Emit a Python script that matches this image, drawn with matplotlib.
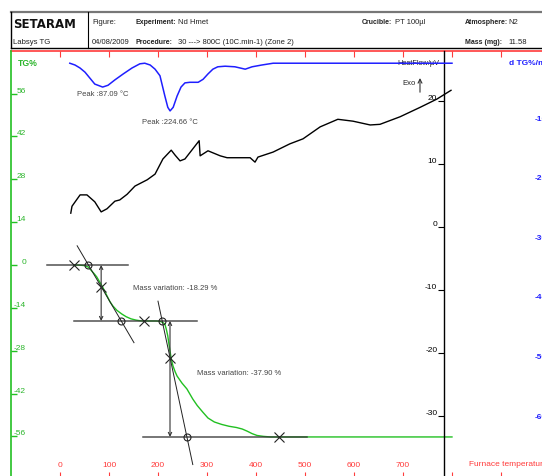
import matplotlib.pyplot as plt

plt.rcParams['font.family'] = ['Liberation Sans', 'DejaVu Sans']

GREEN = '#22c022'
GREEN_TXT = '#2bb52b'
RED = '#ff3b3b'
BLUE = '#1f1fff'
GREY = '#444444'

# TG curve: furnace temperature (C) vs mass change (%)
tg_temp = [28, 40, 50, 58, 65, 70, 75, 80, 86, 91, 96, 102, 108, 116, 126, 135,
           145, 155, 165, 180, 196, 204, 210, 214, 217, 220, 222, 224.5, 227,
           230.6, 235, 239, 249, 259, 271, 280, 291, 302, 315, 330, 345, 360,
           372, 382, 392, 402, 415, 430, 800]
tg_pct = [0.0, -0.05, -0.2, -0.7, -2.0, -2.9, -3.9, -5.3, -6.9, -8.5, -10.1,
          -12.0, -13.4, -14.8, -16.0, -16.9, -17.6, -18.0, -18.25, -18.29,
          -18.29, -18.4, -18.8, -19.3, -21.0, -23.2, -25.5, -28.1, -30.6,
          -33.0, -34.9, -36.3, -38.6, -40.5, -43.8, -45.9, -48.0, -50.0,
          -51.3, -52.1, -52.7, -53.1, -53.6, -54.3, -55.1, -55.7, -56.0,
          -56.19, -56.19]

# heat flow (uV)
hf_temp = [22, 24.5, 41, 55, 71, 84, 96, 112, 122, 137, 153, 178, 194, 210,
           227, 235, 245, 255, 271, 284, 286, 302, 327, 341, 388, 398, 404,
           435, 469, 496, 531, 567, 598, 633, 653, 694, 735, 769, 798]
hf_uv = [2.2, 3.3, 5.1, 5.1, 4.0, 2.4, 2.9, 4.1, 4.3, 5.2, 6.5, 7.5, 8.4, 10.8,
         12.2, 11.4, 10.5, 10.8, 12.4, 13.7, 11.3, 12.1, 11.3, 11.0, 11.0, 10.3,
         11.1, 11.9, 13.2, 14.0, 15.9, 17.1, 16.8, 16.2, 16.3, 17.5, 19.0,
         20.3, 21.7]

# derivative of TG (%/min)
dtg_temp = [20, 30.6, 40.8, 51, 61, 71, 87.09, 98, 112, 129, 147, 163, 173,
            184, 194, 204, 214, 220, 224.66, 231, 239, 247, 255, 265, 282, 292,
            302, 312, 322, 337, 357, 378, 392, 412, 435, 800]
dtg_rate = [-0.2, -0.5, -1.0, -1.7, -2.7, -3.7, -4.2, -3.9, -3.0, -2.0, -1.0,
            -0.3, -0.2, -0.5, -1.2, -2.3, -5.7, -7.6, -8.2, -7.6, -5.7, -4.2,
            -3.5, -3.4, -3.4, -2.9, -2.0, -1.2, -0.8, -0.7, -0.8, -1.2, -0.8,
            -0.5, -0.2, -0.2]

temp_ticks = list(range(0, 1000, 100))
temp_labels = ['0', '100', '200', '300', '400', '500', '600', '700', '', '']
tg_ticks = [-56, -42, -28, -14, 0, 14, 28, 42, 56]
hf_ticks = [-30, -20, -10, 0, 10, 20]
dtg_ticks = [-10, -20, -30, -40, -50, -60]

# mass loss step evaluation
step_levels = [0.0, -18.29, -56.19]
level_spans = [(-26.5, 139), (28.6, 280), (169, 504)]
step_limits = [28.6, 171, 447]
onset = [58, 208.6]
endset = [125, 259]
inflection = [84, 224.5]
tangent_spans = [(35, 151), (200, 271)]
mass_variation = [-18.29, -37.90]
variation_text_pos = [(149, -7.5), (279.6, -35.0)]

peak_temps = [87.09, 224.66]
peak_text_pos = [(34.7, -5.2), (167, -9.9)]

fig = plt.figure(figsize=(5.42, 4.77), dpi=100)

# header block
hd = fig.add_axes([0, 425 / 477, 1, 52 / 477])
hd.set_xlim(0, 542)
hd.set_ylim(52, 0)
hd.axis('off')
hd.plot([11, 542], [13, 13], color='#777777', lw=1.6)
hd.plot([11, 542], [49, 49], color='black', lw=1.0)
hd.plot([11, 11], [13, 49], color='black', lw=1.0)
hd.plot([88, 88], [13, 49], color='black', lw=0.8)
hd.text(13, 25, 'SETARAM', fontsize=8.5, fontweight='bold', family='DejaVu Sans',
        va='center', color='#111111')
hd.text(13, 42, 'Labsys TG', fontsize=5.6, va='center', color='#222222')
head_items = [
    (92, 23, 'Figure:', 'normal'), (92, 42, '04/08/2009', 'normal'),
    (135, 23, 'Experiment:', 'bold'), (178, 23, 'Nd Hmet', 'normal'),
    (135, 42, 'Procedure:', 'bold'),
    (178, 42, '30 ---> 800C (10C.min-1) (Zone 2)', 'normal'),
    (362, 23, 'Crucible:', 'bold'), (395, 23, 'PT 100\u00b5l', 'normal'),
    (465, 23, 'Atmosphere:', 'bold'), (508, 23, 'N2', 'normal'),
    (465, 42, 'Mass (mg):', 'bold'), (508, 42, '11.58', 'normal'),
]
for x, y, s, w in head_items:
    hd.text(x, y, s, fontsize=5.0 if w == 'bold' else 5.5, fontweight=w,
            va='center', color='#222222')

# main plot area
ax = fig.add_axes([11 / 542, 0, 531 / 542, 425 / 477])
ax.set_xlim(-100, 983.7)
ax.set_ylim(-68.95, 69.93)
for side in ['right', 'bottom', 'top']:
    ax.spines[side].set_visible(False)
ax.spines['left'].set_color(GREEN)
ax.spines['left'].set_linewidth(1.2)

ax.set_yticks(tg_ticks)
ax.set_yticklabels([str(t) for t in tg_ticks])
ax.tick_params(axis='y', direction='in', length=4.3, width=1, color=GREEN,
               labelcolor=GREEN_TXT, labelsize=6, pad=-10.8)
for lab in ax.get_yticklabels():
    lab.set_verticalalignment('bottom')
    lab.set_horizontalalignment('right')

ax.set_xticks(temp_ticks)
ax.set_xticklabels(temp_labels)
ax.tick_params(axis='x', direction='in', length=3, width=0.8, color=RED,
               labelcolor=RED, labelsize=6, pad=-11)

top = ax.secondary_xaxis('top')
top.set_xticks(temp_ticks)
top.set_xticklabels([])
top.tick_params(direction='in', length=4.3, width=0.8, color=RED)
top.spines['top'].set_color(RED)
top.spines['top'].set_linewidth(1.2)

ax.text(7 / 531, 1 - 11 / 425, 'TG%', transform=ax.transAxes, color=GREEN_TXT,
        fontsize=6.2, ha='left', va='center', fontweight='bold')
ax.text(834.7, -64.9, 'Furnace temperature /\u00b0C', color=RED, fontsize=6,
        ha='left', va='center', clip_on=False)

ax.plot(tg_temp, tg_pct, color=GREEN, lw=1.0, zorder=3)

# step construction
for lvl, (x0, x1) in zip(step_levels, level_spans):
    ax.plot([x0, x1], [lvl, lvl], color='#333333', lw=1.1, zorder=4, alpha=0.85)
for i in range(2):
    hi, lo = step_levels[i], step_levels[i + 1]
    slope = (lo - hi) / (endset[i] - onset[i])
    t0, t1 = tangent_spans[i]
    ax.plot([t0, t1], [hi + slope * (t0 - onset[i]), hi + slope * (t1 - onset[i])],
            color='#222222', lw=0.7, zorder=4)
    ax.plot([onset[i], endset[i]], [hi, lo], 'o', mfc='none', mec='#222222',
            ms=5, mew=0.8, zorder=5)
    yi = hi + slope * (inflection[i] - onset[i])
    ax.plot([inflection[i]], [yi], 'x', color='#222222', ms=7, mew=0.8, zorder=5)
    ax.annotate('', xy=(inflection[i], lo), xytext=(inflection[i], hi),
                arrowprops=dict(arrowstyle='<->', color='#333333', lw=0.8,
                                shrinkA=0, shrinkB=0, mutation_scale=6),
                zorder=5)
    tx, ty = variation_text_pos[i]
    ax.text(tx, ty, 'Mass variation: %.2f %%' % mass_variation[i], fontsize=5.5,
            color=GREY, va='center', ha='left')
for t, lvl in zip(step_limits, step_levels):
    ax.plot([t], [lvl], 'x', color='#222222', ms=7, mew=0.8, zorder=5)

# heat flow axis
ax2 = ax.twinx()
ax2.set_ylim(-39.52, 27.94)
for side in ['right', 'bottom', 'top']:
    ax2.spines[side].set_visible(False)
ax2.spines['left'].set_position(('data', 783.7))
ax2.spines['left'].set_color('black')
ax2.spines['left'].set_linewidth(1.0)
ax2.yaxis.set_ticks_position('left')
ax2.set_yticks(hf_ticks)
ax2.set_yticklabels([str(t) for t in hf_ticks])
ax2.tick_params(axis='y', direction='out', length=4.3, width=0.8,
                labelsize=6, pad=0.5)
for lab in ax2.get_yticklabels():
    lab.set_verticalalignment('bottom')
ax2.plot(hf_temp, hf_uv, color='black', lw=1.0)
ax2.text(773.5, 26.1, 'HeatFlow/\u00b5V', fontsize=5.3, color='#222222',
         ha='right', va='center')
ax2.text(698, 23.0, 'Exo', fontsize=5.5, color='#222222', ha='left', va='center')
ax2.annotate('', xy=(734.7, 23.65), xytext=(734.7, 21.4),
             arrowprops=dict(arrowstyle='->', color='#333333', lw=0.8,
                             mutation_scale=7, shrinkA=0, shrinkB=0))

# DTG axis
ax3 = ax.twinx()
ax3.set_ylim(-69.46, 1.85)
for side in ['left', 'bottom', 'top', 'right']:
    ax3.spines[side].set_visible(False)
ax3.set_yticks(dtg_ticks)
ax3.set_yticklabels([str(t) for t in dtg_ticks])
ax3.tick_params(axis='y', length=0, labelsize=6, labelcolor=BLUE, pad=-5)
for lab in ax3.get_yticklabels():
    lab.set_verticalalignment('bottom')
    lab.set_fontweight('bold')
ax3.plot(dtg_temp, dtg_rate, color=BLUE, lw=1.1)
ax3.text(916, 0.0, 'd TG%/min', color=BLUE, fontsize=6, ha='left',
         va='center', fontweight='bold', clip_on=False)
for t, (px, py) in zip(peak_temps, peak_text_pos):
    ax3.text(px, py, 'Peak :%.2f \u00b0C' % t, fontsize=5.5, color=GREY,
             ha='left', va='center')

fig.savefig('out.png', dpi=100)
